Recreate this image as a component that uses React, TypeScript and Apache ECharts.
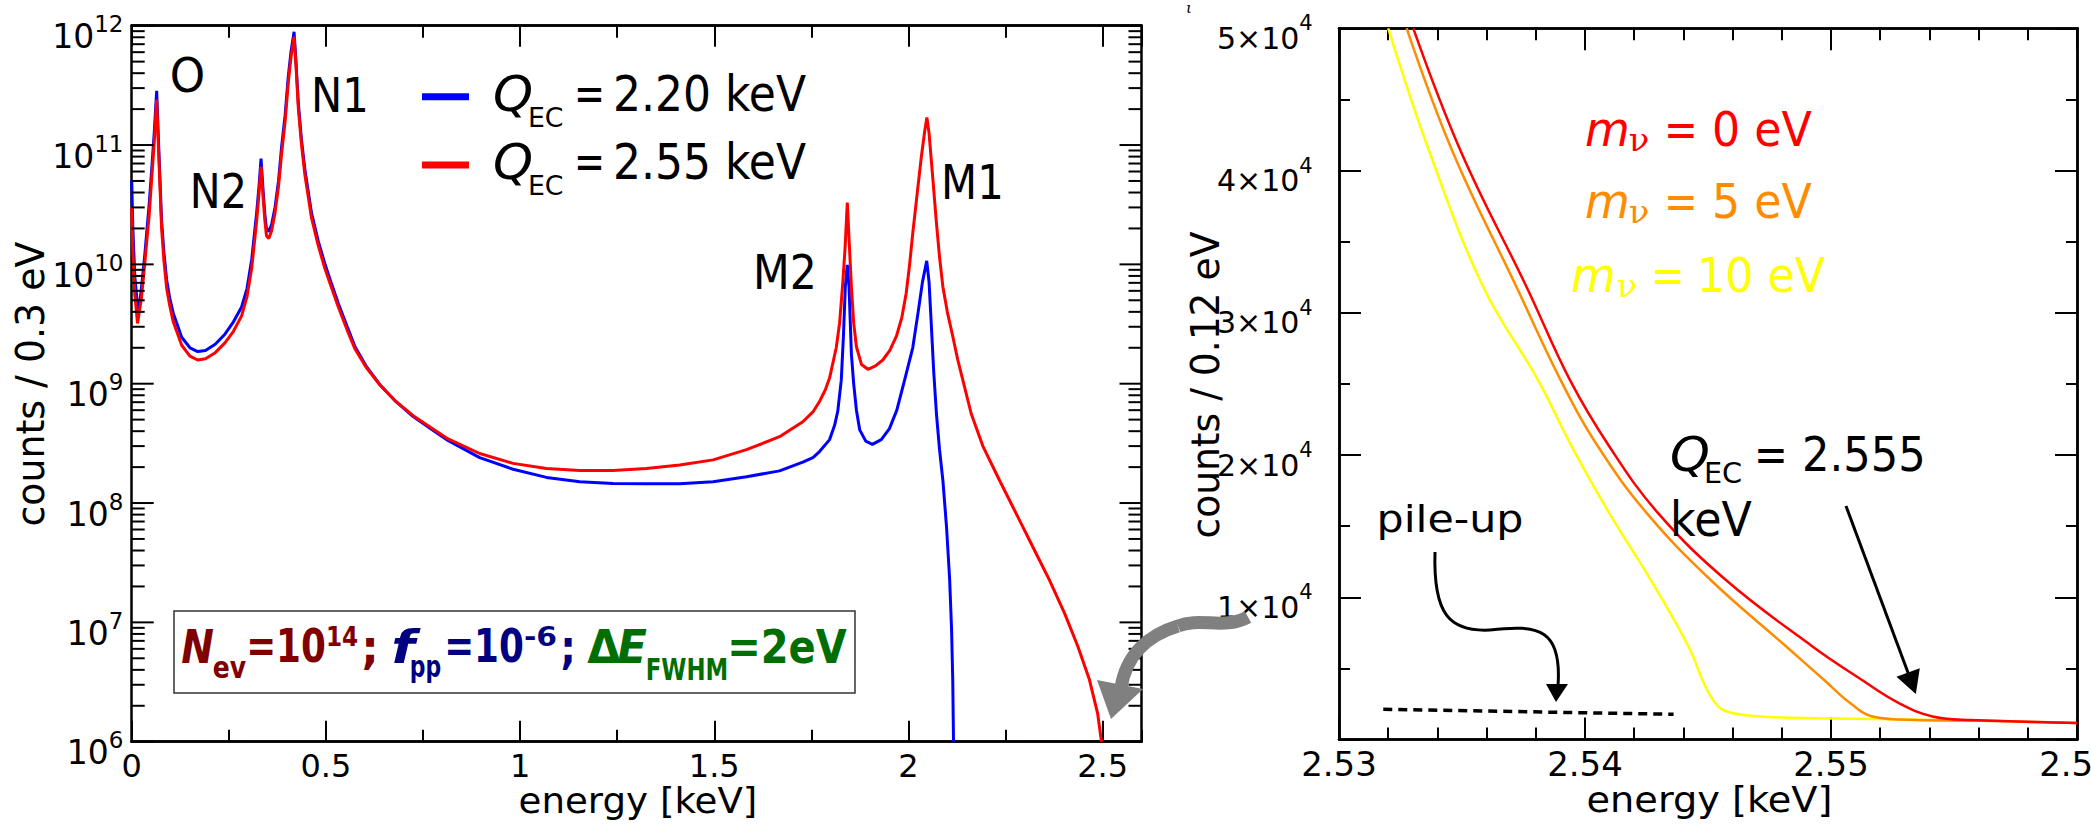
import React, { useEffect, useRef } from 'react';
import * as echarts from 'echarts';

const FONT = 'DejaVu Sans';

// ---------------- Left panel: counts / 0.3 eV vs energy [keV] ----------------
const energyQ220 = [
  0, 0.003, 0.008, 0.017, 0.025, 0.034, 0.045, 0.0514, 0.058, 0.0643, 0.0686, 0.073, 0.077, 0.083, 0.09,
  0.098, 0.107, 0.1287, 0.15, 0.17, 0.19, 0.215, 0.24, 0.262, 0.283, 0.297, 0.309, 0.3217, 0.328, 0.333,
  0.3387, 0.343, 0.347, 0.353, 0.36, 0.369, 0.378, 0.386, 0.395, 0.403, 0.41, 0.418, 0.423, 0.429, 0.437,
  0.446, 0.463, 0.48, 0.497, 0.515, 0.532, 0.555, 0.575, 0.605, 0.639, 0.68, 0.7247, 0.77, 0.8106, 0.896,
  0.982, 1.068, 1.154, 1.239, 1.325, 1.411, 1.497, 1.583, 1.668, 1.728, 1.754, 1.771, 1.797, 1.81, 1.818,
  1.827, 1.8325, 1.8374, 1.8425, 1.847, 1.853, 1.8589, 1.866, 1.8745, 1.89, 1.907, 1.93, 1.951, 1.97, 1.99,
  2.011, 2.025, 2.036, 2.047, 2.053, 2.058, 2.065, 2.072, 2.08, 2.0886, 2.098, 2.106, 2.111, 2.114, 2.116,
];
const countsQ220 = [
  5.1e10, 2.0e10, 7.9e9, 3.8e9, 6.3e9, 1.23e10, 3.2e10, 6.2e10, 1.26e11, 2.85e11, 1.17e11, 5.0e10, 2.3e10, 1.26e10, 7.4e9,
  5.2e9, 3.9e9, 2.45e9, 2.0e9, 1.86e9, 1.9e9, 2.14e9, 2.6e9, 3.3e9, 4.4e9, 6.3e9, 1.1e10, 2.7e10, 4.6e10, 7.7e10,
  4.0e10, 2.6e10, 2.0e10, 1.88e10, 2.14e10, 3.0e10, 5.0e10, 9.7e10, 1.78e11, 3.7e11, 6.0e11, 8.9e11, 5.0e11, 2.24e11, 1.12e11,
  6.2e10, 2.7e10, 1.58e10, 1.02e10, 6.8e9, 4.7e9, 3.0e9, 2.04e9, 1.38e9, 9.8e8, 7.1e8, 5.3e8, 4.2e8, 3.4e8, 2.4e8,
  1.92e8, 1.64e8, 1.51e8, 1.46e8, 1.45e8, 1.45e8, 1.51e8, 1.66e8, 1.86e8, 2.2e8, 2.4e8, 2.7e8, 3.4e8, 4.5e8, 5.9e8,
  1.07e9, 2.5e9, 6.5e9, 9.9e9, 6.5e9, 1.78e9, 1.0e9, 6.0e8, 4.1e8, 3.3e8, 3.1e8, 3.4e8, 4.2e8, 6.0e8, 1.07e9,
  2.0e9, 4.0e9, 7.1e9, 1.07e10, 7.1e9, 3.5e9, 1.26e9, 5.6e8, 2.8e8, 1.55e8, 6.3e7, 2.3e7, 8.7e6, 3.3e6, 1.0e6,
];

const energyQ255 = [
  0, 0.003, 0.008, 0.015, 0.025, 0.034, 0.045, 0.0514, 0.058, 0.0643, 0.0686, 0.073, 0.077, 0.083, 0.09,
  0.098, 0.107, 0.1287, 0.15, 0.17, 0.19, 0.215, 0.24, 0.262, 0.283, 0.297, 0.309, 0.3217, 0.328, 0.333,
  0.3387, 0.343, 0.347, 0.353, 0.36, 0.369, 0.378, 0.386, 0.395, 0.403, 0.41, 0.418, 0.423, 0.429, 0.437,
  0.446, 0.463, 0.48, 0.497, 0.515, 0.532, 0.555, 0.575, 0.605, 0.639, 0.68, 0.7247, 0.77, 0.8106, 0.896,
  0.982, 1.068, 1.154, 1.239, 1.325, 1.411, 1.497, 1.583, 1.668, 1.728, 1.754, 1.771, 1.786, 1.797, 1.814,
  1.8226, 1.831, 1.837, 1.8425, 1.848, 1.853, 1.859, 1.866, 1.879, 1.8956, 1.915, 1.934, 1.952, 1.969, 1.983,
  1.994, 2.003, 2.011, 2.022, 2.033, 2.042, 2.0474, 2.053, 2.062, 2.0716, 2.08, 2.0886, 2.1, 2.114, 2.127,
  2.14, 2.1616, 2.1915, 2.234, 2.277, 2.32, 2.363, 2.402, 2.436, 2.466, 2.487, 2.497,
];
const countsQ255 = [
  3.0e10, 1.26e10, 5.6e9, 3.2e9, 5.2e9, 1.05e10, 2.6e10, 5.2e10, 1.05e11, 2.4e11, 1.0e11, 4.3e10, 2.0e10, 1.07e10, 6.3e9,
  4.5e9, 3.3e9, 2.1e9, 1.7e9, 1.58e9, 1.62e9, 1.82e9, 2.2e9, 2.75e9, 3.7e9, 5.4e9, 9.3e9, 2.3e10, 4.0e10, 6.6e10,
  3.5e10, 2.3e10, 1.74e10, 1.65e10, 1.9e10, 2.7e10, 4.5e10, 8.5e10, 1.58e11, 3.3e11, 5.4e11, 8.1e11, 4.6e11, 2.04e11, 1.02e11,
  5.6e10, 2.45e10, 1.45e10, 9.3e9, 6.3e9, 4.4e9, 2.8e9, 1.95e9, 1.35e9, 9.8e8, 7.1e8, 5.4e8, 4.3e8, 3.5e8, 2.6e8,
  2.15e8, 1.95e8, 1.87e8, 1.87e8, 1.95e8, 2.08e8, 2.3e8, 2.8e8, 3.6e8, 4.8e8, 5.8e8, 7.1e8, 8.9e8, 1.12e9, 2.0e9,
  3.2e9, 7.1e9, 1.41e10, 3.3e10, 1.41e10, 6.5e9, 3.2e9, 2.04e9, 1.45e9, 1.32e9, 1.41e9, 1.58e9, 1.9e9, 2.5e9, 3.6e9,
  5.7e9, 1.0e10, 1.82e10, 3.8e10, 7.9e10, 1.32e11, 1.7e11, 1.26e11, 5.6e10, 2.3e10, 1.15e10, 6.5e9, 4.0e9, 2.5e9, 1.58e9,
  1.07e9, 5.6e8, 3.0e8, 1.56e8, 8.2e7, 4.3e7, 2.26e7, 1.19e7, 6.3e6, 3.3e6, 1.73e6, 1.0e6,
];

// ---------------- Right panel: counts / 0.12 eV near the endpoint ----------------
const energyM0 = [2.53302, 2.53499, 2.53763, 2.53938, 2.54099, 2.54298, 2.54574, 2.54926, 2.55126, 2.55278, 2.55417, 2.5557, 2.56];
const countsM0 = [50000, 41200, 31800, 25300, 20600, 15900, 11200, 6530, 4190, 2550, 1610, 1380, 1170];
const energyM5 = [2.53275, 2.53465, 2.53722, 2.539, 2.54053, 2.54252, 2.54512, 2.54819, 2.54972, 2.55079, 2.55172, 2.5534, 2.556, 2.56];
const countsM5 = [50000, 41200, 31800, 25300, 20600, 15900, 11200, 6530, 4190, 2550, 1610, 1380, 1330, 1170];
const energyM10 = [2.532, 2.5337, 2.53587, 2.53808, 2.53946, 2.54099, 2.54268, 2.54421, 2.5449, 2.54543, 2.54604, 2.54727, 2.54957, 2.5519, 2.556];
const countsM10 = [50000, 41200, 31800, 25300, 20600, 15900, 11200, 6530, 3720, 2310, 1850, 1610, 1500, 1450, 1330];
const energyPileUp = [2.5318, 2.5436];
const countsPileUp = [2130, 1780];

// ---------------- Axis structure ----------------
const decadeExponents = [6, 7, 8, 9, 10, 11, 12];
const minorMultipliers = [2, 3, 4, 5, 6, 7, 8, 9];

const zip = (xs: number[], ys: number[]) => xs.map((x, i) => [x, ys[i]]);

function measureText(text: string, size: number, family: string, weight: string, fstyle: string) {
  const c = document.createElement('canvas').getContext('2d')!;
  c.font = `${fstyle} ${weight} ${size}px "${family}"`;
  return c.measureText(text).width || 1;
}

type TOpts = { italic?: boolean; bold?: boolean; family?: string; shadow?: [string, number, number]; rotation?: number };

// Text whose ink spans [start, end] along its reading direction.
function label(text: string, start: number, end: number, cy: number, size: number, fill: string, o: TOpts = {}) {
  const family = o.family ?? FONT;
  const weight = o.bold ? 'bold' : 'normal';
  const fstyle = o.italic ? 'italic' : 'normal';
  const pad = size * 0.04;
  const w = measureText(text, size, family, weight, fstyle);
  const sx = (Math.abs(end - start) + 2 * pad) / w;
  const style: any = {
    text, fill, fontSize: size, fontFamily: family, fontWeight: weight, fontStyle: fstyle,
    align: 'left', verticalAlign: 'middle',
  };
  if (o.shadow) {
    style.textShadowColor = o.shadow[0];
    style.textShadowOffsetX = o.shadow[1];
    style.textShadowOffsetY = o.shadow[2];
    style.textShadowBlur = 0;
  }
  if (o.rotation) {
    return { type: 'text', x: cy, y: start + pad, rotation: o.rotation, scaleX: sx, z: 50, silent: true, style };
  }
  return { type: 'text', x: start - pad, y: cy, scaleX: sx, z: 50, silent: true, style };
}

function buildOption() {
  const axisLine = { show: true, onZero: false, lineStyle: { color: '#000', width: 2.5 } };
  const tick = (len: number) => ({ show: true, inside: true, length: len, lineStyle: { color: '#000', width: 2 } });
  const noLabel = { show: false };

  const xAx = (grid: number, min: number, max: number, interval: number, position: string, len: number, axisLabel: any) => ({
    type: 'value', gridIndex: grid, min, max, interval, position,
    axisLine, axisTick: tick(len), splitLine: { show: false }, minorTick: { show: false }, axisLabel,
  });

  const leftXLabel = {
    show: true, margin: 8, fontSize: 32, fontFamily: FONT, color: '#000',
    showMinLabel: true, showMaxLabel: false,
    formatter: (v: number) => String(Math.round(v * 100) / 100),
  };
  const rightXLabel = {
    show: true, margin: 7, fontSize: 34, fontFamily: FONT, color: '#000',
    showMinLabel: true, showMaxLabel: true,
    formatter: (v: number) => v.toFixed(2),
  };

  const logLabel = {
    show: true, margin: 8, padding: [14.5, 0, 0, 0],
    formatter: (v: number) => `{b|10}{s|${Math.round(Math.log10(v))}}{h| }`,
    rich: {
      b: { fontSize: 33, fontFamily: FONT, color: '#000', lineHeight: 33, verticalAlign: 'bottom' },
      s: { fontSize: 23, fontFamily: FONT, color: '#000', lineHeight: 23, verticalAlign: 'top' },
      h: { fontSize: 1, lineHeight: 40.5 },
    },
  };
  const linLabel = {
    show: true, margin: 26, padding: [9.5, 0, 0, 0],
    formatter: (v: number) => (v === 0 ? '' : `{b|${Math.round(v / 1e4)}×10}{s|4}{h| }`),
    rich: {
      b: { fontSize: 30, fontFamily: FONT, color: '#000', lineHeight: 30, verticalAlign: 'bottom' },
      s: { fontSize: 21, fontFamily: FONT, color: '#000', lineHeight: 21, verticalAlign: 'top' },
      h: { fontSize: 1, lineHeight: 40.5 },
    },
  };

  const logAx = (position: string, axisLabel: any) => ({
    type: 'log', logBase: 10, gridIndex: 0, min: 1e6, max: 1e12, splitNumber: 6, position,
    axisLine, axisTick: { show: false }, splitLine: { show: false }, minorTick: { show: false }, axisLabel,
  });
  const linAx = (position: string, interval: number, len: number, axisLabel: any) => ({
    type: 'value', gridIndex: 1, min: 0, max: 50000, interval, position,
    axisLine, axisTick: tick(len), splitLine: { show: false }, minorTick: { show: false }, axisLabel,
  });

  const logTickRows: number[][] = [];
  decadeExponents.forEach((e) => {
    logTickRows.push([0, Math.pow(10, e), 22]);
    if (e < 12) minorMultipliers.forEach((m) => logTickRows.push([0, m * Math.pow(10, e), 13]));
  });

  const line = (xi: number, yi: number, data: number[][], color: string, width: number, extra: any = {}) => ({
    type: 'line', xAxisIndex: xi, yAxisIndex: yi, data, showSymbol: false, symbol: 'none', silent: true,
    lineStyle: { color, width }, itemStyle: { color }, ...extra,
  });

  const gray: [string, number, number] = ['rgba(0,0,0,0.3)', 3, 3];
  const black: [string, number, number] = ['#000', -2, 2];
  const black3: [string, number, number] = ['#000', -3, 3];
  const darkRed = '#800000';
  const navy = '#000080';
  const green = '#006e00';
  const up = Math.PI / 2;

  const texts: any[] = [
    // axis titles
    label('counts / 0.3 eV', 525, 243, 30, 39, '#000', { rotation: up }),
    label('energy [keV]', 520, 756, 801, 36, '#000'),
    label('counts / 0.12 eV', 537, 233, 1205, 39, '#000', { rotation: up }),
    label('energy [keV]', 1588, 1831, 800, 36, '#000'),
    { type: 'text', x: 1186, y: 8, z: 50, silent: true,
      style: { text: 'ι', fontSize: 15, fontFamily: 'DejaVu Serif', fontStyle: 'italic', fill: '#000', align: 'left', verticalAlign: 'middle' } },

    // peak labels
    label('O', 171.7, 203.3, 75, 48, '#000'),
    label('N2', 191.7, 245, 191.5, 48, '#000'),
    label('N1', 313, 367, 95.5, 48, '#000'),
    label('M2', 755, 815, 272.5, 48, '#000'),
    label('M1', 943, 1002, 182.5, 48, '#000'),

    // legend
    { type: 'rect', z: 50, silent: true, shape: { x: 422, y: 93.2, width: 47, height: 7 }, style: { fill: '#0000ff' } },
    { type: 'rect', z: 50, silent: true, shape: { x: 422, y: 161.5, width: 47, height: 7 }, style: { fill: '#ff0000' } },
    label('Q', 495, 531, 93.3, 50, '#000', { italic: true, shadow: gray }),
    label('EC', 529, 562.5, 117, 27, '#000', { shadow: gray }),
    label('=', 576, 603, 93.3, 50, '#000', { shadow: gray }),
    label('2.20 keV', 615, 804, 93.3, 50, '#000', { shadow: gray }),
    label('Q', 495, 531, 161.7, 50, '#000', { italic: true, shadow: gray }),
    label('EC', 529, 562.5, 185.4, 27, '#000', { shadow: gray }),
    label('=', 576, 603, 161.7, 50, '#000', { shadow: gray }),
    label('2.55 keV', 615, 804, 161.7, 50, '#000', { shadow: gray }),

    // parameter box
    { type: 'rect', z: 40, silent: true, shape: { x: 174, y: 611, width: 681, height: 82 }, style: { fill: '#fff', stroke: '#333', lineWidth: 1.5 } },
    label('N', 183, 212, 646.7, 46, darkRed, { italic: true, bold: true, shadow: black3 }),
    label('ev', 214, 245, 668, 30, darkRed, { bold: true, shadow: black3 }),
    label('=10', 248, 324, 646.7, 46, darkRed, { bold: true, shadow: black3 }),
    label('14', 327, 357, 636.7, 27, darkRed, { bold: true, shadow: black3 }),
    label(';', 363, 377, 646.7, 46, darkRed, { bold: true, shadow: black3 }),
    label('f', 393, 413, 646.7, 46, navy, { italic: true, bold: true, shadow: black3 }),
    label('pp', 411, 440, 667, 30, navy, { bold: true, shadow: black3 }),
    label('=10', 446, 522, 646.7, 46, navy, { bold: true, shadow: black3 }),
    label('-6', 525, 556, 636.7, 27, navy, { bold: true, shadow: black3 }),
    label(';', 562, 574, 646.7, 46, navy, { bold: true, shadow: black3 }),
    label('Δ', 589, 619, 646.7, 46, green, { bold: true, shadow: black3 }),
    label('E', 619, 645, 646.7, 46, green, { italic: true, bold: true, shadow: black3 }),
    label('FWHM', 647, 727, 669, 30, green, { bold: true, shadow: black3 }),
    label('=2eV', 729, 845, 646.7, 46, green, { bold: true, shadow: black3 }),

    // neutrino-mass labels
    label('m', 1587, 1628, 129, 48, '#ff0000', { italic: true, shadow: black }),
    label('ν', 1630, 1648, 140, 32, '#ff0000', { family: 'DejaVu Serif', shadow: black }),
    label('=', 1666, 1696, 129, 48, '#ff0000', { shadow: black }),
    label('0 eV', 1714, 1810, 129, 48, '#ff0000', { shadow: black }),
    label('m', 1587, 1628, 201, 48, '#ff8c00', { italic: true, shadow: black }),
    label('ν', 1630, 1648, 212, 32, '#ff8c00', { family: 'DejaVu Serif', shadow: black }),
    label('=', 1666, 1696, 201, 48, '#ff8c00', { shadow: black }),
    label('5 eV', 1714, 1810, 201, 48, '#ff8c00', { shadow: black }),
    label('m', 1573, 1614, 275, 48, '#ffff00', { italic: true, shadow: black }),
    label('ν', 1618, 1636, 286, 32, '#ffff00', { family: 'DejaVu Serif', shadow: black }),
    label('=', 1653, 1683, 275, 48, '#ffff00', { shadow: black }),
    label('10 eV', 1699, 1823, 275, 48, '#ffff00', { shadow: black }),

    // endpoint label
    label('Q', 1672, 1708, 454.5, 48, '#000', { italic: true, shadow: gray }),
    label('EC', 1705, 1741, 474, 28, '#000', { shadow: gray }),
    label('=', 1756, 1786, 454.5, 48, '#000', { shadow: gray }),
    label('2.555', 1804, 1924, 454.5, 48, '#000', { shadow: gray }),
    label('keV', 1672, 1750, 519.5, 48, '#000', { shadow: gray }),

    // pile-up label
    label('pile-up', 1378, 1522, 519, 38, '#000'),

    // pile-up curved arrow
    { type: 'bezierCurve', z: 60, silent: true,
      shape: { x1: 1435, y1: 552, cpx1: 1433, cpy1: 615, cpx2: 1450, cpy2: 632, x2: 1490, y2: 630 },
      style: { stroke: '#000', lineWidth: 3, fill: 'none' } },
    { type: 'bezierCurve', z: 60, silent: true,
      shape: { x1: 1490, y1: 630, cpx1: 1540, cpy1: 624, cpx2: 1562, cpy2: 630, x2: 1558, y2: 686 },
      style: { stroke: '#000', lineWidth: 3, fill: 'none' } },
    { type: 'polygon', z: 60, silent: true, shape: { points: [[1546, 684], [1568, 684], [1556, 702]] }, style: { fill: '#000' } },

    // endpoint straight arrow
    { type: 'line', z: 60, silent: true, shape: { x1: 1846, y1: 506, x2: 1910, y2: 678 }, style: { stroke: '#000', lineWidth: 3 } },
    { type: 'polygon', z: 60, silent: true, shape: { points: [[1896.5, 676.8], [1919.8, 668.2], [1915.8, 694]] }, style: { fill: '#000' } },

    // thick gray arrow
    { type: 'bezierCurve', z: 70, silent: true,
      shape: { x1: 1248, y1: 617, cpx1: 1225, cpy1: 630, cpx2: 1200, cpy2: 617, x2: 1178, y2: 626 },
      style: { stroke: '#808080', lineWidth: 13, fill: 'none' } },
    { type: 'bezierCurve', z: 70, silent: true,
      shape: { x1: 1178, y1: 626, cpx1: 1148, cpy1: 635, cpx2: 1126, cpy2: 655, x2: 1121, y2: 688 },
      style: { stroke: '#808080', lineWidth: 13, fill: 'none' } },
    { type: 'polygon', z: 70, silent: true, shape: { points: [[1097, 680], [1143, 689], [1111, 719]] }, style: { fill: '#808080' } },
  ];

  return {
    animation: false,
    backgroundColor: '#ffffff',
    grid: [
      { left: 131.7, top: 25.7, width: 1009.8, height: 716, outerBoundsMode: 'none', containLabel: false },
      { left: 1339, top: 28.3, width: 738, height: 711.3, outerBoundsMode: 'none', containLabel: false },
    ],
    xAxis: [
      xAx(0, 0, 2.6, 0.5, 'bottom', 21, leftXLabel),
      xAx(0, 0, 2.6, 0.25, 'bottom', 12, noLabel),
      xAx(0, 0, 2.6, 0.5, 'top', 21, noLabel),
      xAx(0, 0, 2.6, 0.25, 'top', 12, noLabel),
      xAx(1, 2.53, 2.56, 0.01, 'bottom', 22, rightXLabel),
      xAx(1, 2.53, 2.56, 0.002, 'bottom', 12, noLabel),
      xAx(1, 2.53, 2.56, 0.01, 'top', 22, noLabel),
      xAx(1, 2.53, 2.56, 0.002, 'top', 12, noLabel),
    ],
    yAxis: [
      logAx('left', logLabel),
      logAx('right', noLabel),
      linAx('left', 10000, 22, linLabel),
      linAx('left', 5000, 11, noLabel),
      linAx('right', 10000, 22, noLabel),
      linAx('right', 5000, 11, noLabel),
    ],
    series: [
      line(0, 0, zip(energyQ220, countsQ220), '#0000ff', 3, { name: 'Q_EC = 2.20 keV' }),
      line(0, 0, zip(energyQ255, countsQ255), '#ff0000', 3, { name: 'Q_EC = 2.55 keV' }),
      {
        type: 'custom', xAxisIndex: 0, yAxisIndex: 0, silent: true, z: 5, data: logTickRows,
        renderItem: (params: any, api: any) => {
          const v = api.value(1);
          const len = api.value(2);
          const y = api.coord([0, v])[1];
          const cs = params.coordSys;
          return {
            type: 'group',
            children: [
              { type: 'line', shape: { x1: cs.x, y1: y, x2: cs.x + len, y2: y }, style: { stroke: '#000', lineWidth: 2 } },
              { type: 'line', shape: { x1: cs.x + cs.width - len, y1: y, x2: cs.x + cs.width, y2: y }, style: { stroke: '#000', lineWidth: 2 } },
            ],
          };
        },
      },
      line(4, 2, zip(energyM10, countsM10), '#ffff00', 2.5, { name: 'm = 10 eV', smooth: 0.4 }),
      line(4, 2, zip(energyM5, countsM5), '#ff8c00', 2.5, { name: 'm = 5 eV', smooth: 0.4 }),
      line(4, 2, zip(energyM0, countsM0), '#ff0000', 2.5, { name: 'm = 0 eV', smooth: 0.4 }),
      line(4, 2, zip(energyPileUp, countsPileUp), '#000', 3.5, { name: 'pile-up', lineStyle: { color: '#000', width: 3.5, type: [9, 6] } }),
    ],
    graphic: { elements: texts },
  };
}

export default function App() {
  const ref = useRef<HTMLDivElement>(null);
  useEffect(() => {
    document.body.style.margin = '0';
    const chart = echarts.init(ref.current!, null, { renderer: 'svg' });
    chart.setOption(buildOption() as any);
    return () => chart.dispose();
  }, []);
  return <div ref={ref} style={{ width: 2091, height: 828 }} />;
}
